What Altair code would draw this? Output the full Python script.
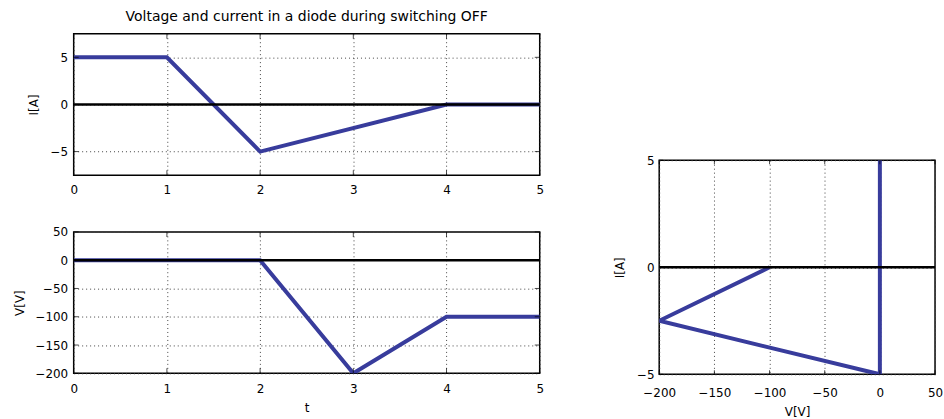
import altair as alt
import pandas as pd

# ---- data ----
t_current = [0, 1, 2, 4, 5]
current = [5, 5, -5, 0, 0]
t_voltage = [0, 2, 3, 4, 5]
voltage = [0, 0, -200, -100, -100]
vi_voltage = [0, 0, -200, -100]
vi_current = [5, -5, -2.5, 0]
t_ticks = [0, 1, 2, 3, 4, 5]
i_ticks = [-5, 0, 5]
v_ticks = [-200, -150, -100, -50, 0, 50]
title_text = "Voltage and current in a diode during switching OFF"

BLUE = "#383c9c"
FONT = "DejaVu Sans"
FS = 12

df_i = pd.DataFrame({"t": t_current, "I": current})
df_v = pd.DataFrame({"t": t_voltage, "V": voltage})
df_vi = pd.DataFrame({"V": vi_voltage, "I": vi_current, "k": list(range(len(vi_voltage)))})
zero_t_i = pd.DataFrame({"t": [0, 5], "I": [0, 0]})
zero_t_v = pd.DataFrame({"t": [0, 5], "V": [0, 0]})
zero_vi = pd.DataFrame({"V": [-200, 50], "I": [0, 0], "k": [0, 1]})


def ax(values, title=None, **kw):
    return alt.Axis(values=values, title=title, grid=True, gridDash=[1, 3], gridColor="#444",
                    gridWidth=1, ticks=False, domain=False, labelFlush=False,
                    labelFont=FONT, labelFontSize=FS, labelColor="black",
                    titleFont=FONT, titleFontSize=FS, titleFontWeight="normal",
                    titleColor="black", **kw)


def inner_ticks(xfield, xvals, yfield, yvals, x_enc, y_enc, w, h, L):
    """MATLAB-style ticks drawn inside the frame on all four sides."""
    dx = pd.DataFrame({xfield: xvals})
    dy = pd.DataFrame({yfield: yvals})
    base_x = alt.Chart(dx).mark_tick(orient="vertical", color="black", size=L, thickness=1)
    base_y = alt.Chart(dy).mark_tick(orient="horizontal", color="black", size=L, thickness=1)
    return [
        base_x.encode(x=x_enc, y=alt.value(h - L / 2)),
        base_x.encode(x=x_enc, y=alt.value(L / 2)),
        base_y.encode(y=y_enc, x=alt.value(L / 2)),
        base_y.encode(y=y_enc, x=alt.value(w - L / 2)),
    ]


LW, LH = 468, 142
RW, RH = 277, 215

# top: current vs time
xt = alt.X("t:Q", scale=alt.Scale(domain=[0, 5], nice=False), axis=ax(t_ticks, None, labelPadding=9))
yi = alt.Y("I:Q", scale=alt.Scale(domain=[-7.5, 7.5], nice=False),
           axis=ax(i_ticks, "I[A]", labelPadding=6, titlePadding=10))
top = alt.layer(
    alt.Chart(df_i).mark_line(color=BLUE, strokeWidth=4, clip=True).encode(x=xt, y=yi),
    alt.Chart(zero_t_i).mark_line(color="black", strokeWidth=2.5, clip=True).encode(x=xt, y=yi),
    *inner_ticks("t", t_ticks, "I", i_ticks, xt, yi, LW, LH, 5),
).properties(width=LW, height=LH,
             title=alt.TitleParams(title_text, font=FONT, fontSize=14, fontWeight="normal",
                                   color="black", offset=10))

# bottom: voltage vs time
xt2 = alt.X("t:Q", scale=alt.Scale(domain=[0, 5], nice=False),
            axis=ax(t_ticks, "t", labelPadding=10, titlePadding=8))
yv = alt.Y("V:Q", scale=alt.Scale(domain=[-200, 50], nice=False),
           axis=ax(v_ticks, "V[V]", labelPadding=6, titlePadding=8))
bottom = alt.layer(
    alt.Chart(df_v).mark_line(color=BLUE, strokeWidth=4, clip=True).encode(x=xt2, y=yv),
    alt.Chart(zero_t_v).mark_line(color="black", strokeWidth=2.5, clip=True).encode(x=xt2, y=yv),
    *inner_ticks("t", t_ticks, "V", v_ticks, xt2, yv, LW, LH, 5),
).properties(width=LW, height=LH)

# right: current vs voltage
xv = alt.X("V:Q", scale=alt.Scale(domain=[-200, 50], nice=False),
           axis=ax(v_ticks, "V[V]", labelPadding=13, titlePadding=8))
yi2 = alt.Y("I:Q", scale=alt.Scale(domain=[-5, 5], nice=False),
            axis=ax(i_ticks, "I[A]", labelPadding=5, titlePadding=10))
right = alt.layer(
    alt.Chart(df_vi).mark_line(color=BLUE, strokeWidth=4, clip=True).encode(x=xv, y=yi2, order="k:Q"),
    alt.Chart(zero_vi).mark_line(color="black", strokeWidth=2.5, clip=True).encode(x=xv, y=yi2, order="k:Q"),
    *inner_ticks("V", v_ticks, "I", i_ticks, xv, yi2, RW, RH, 4),
).properties(width=RW, height=RH)

spacer = alt.Chart(pd.DataFrame({"a": [0]})).mark_point(opacity=0).encode(
    x=alt.value(0), y=alt.value(0)
).properties(width=RW, height=127, view=alt.ViewBackground(stroke=None))

left_col = alt.vconcat(top, bottom, spacing=57, bounds="flush")
right_col = alt.vconcat(spacer, right, spacing=0, bounds="flush")

chart = alt.hconcat(left_col, right_col, spacing=68).configure_view(
    stroke="black", strokeWidth=1.5
).properties(padding={"left": 13, "top": 8, "right": 0, "bottom": 0}, background="white")

chart.save("out.html", embed_options={"renderer": "svg", "actions": False})
